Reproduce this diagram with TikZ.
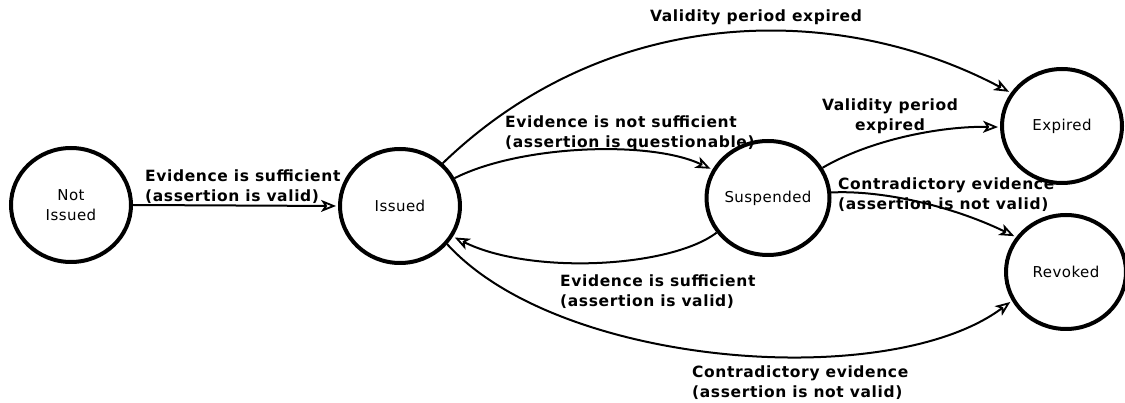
\documentclass[tikz,border=0pt]{standalone}
\usepackage{fontspec}
\setmainfont{DejaVu Sans}
\usetikzlibrary{shapes.geometric,arrows.meta}
\tikzset{
  state/.style={ellipse, draw, line width=4pt, minimum width=120pt,
    minimum height=114pt, inner sep=0pt, align=center,
    font=\fontsize{15}{20}\selectfont\addfontfeature{LetterSpace=3}},
  trans/.style={line width=2pt, shorten >=2pt,
    -{Stealth[open, length=15pt, width=12pt, inset=4pt, line width=1.8pt]}},
  lbl/.style={inner sep=0pt, align=left, anchor=north west,
    font=\fontsize{15.5}{19.5}\selectfont\bfseries\addfontfeature{LetterSpace=4}},
  clbl/.style={lbl, align=center, anchor=north},
}
\begin{document}
\begin{tikzpicture}[x=1pt,y=-1pt]
\useasboundingbox (0,0) rectangle (1125,403);

% states of the assertion
\node[state] (ni)  at (71,205)   {Not\\Issued};
\node[state] (iss) at (400,206)  {Issued};
\node[state] (sus) at (768,198)  {Suspended};
\node[state] (exp) at (1062,126) {Expired};
\node[state] (rev) at (1066,272) {Revoked};

% transitions
\draw[trans] (ni.east) -- (iss.west);
\draw[trans] (iss.45) .. controls (610,2) and (840,2) .. (exp.147);
\draw[trans] (iss.27) .. controls (520,145) and (650,140) .. (sus.153);
\draw[trans] (sus.29) .. controls (870,140) and (940,126) .. (exp.181);
\draw[trans] (sus.5) .. controls (880,190) and (950,205) .. (rev.145);
\draw[trans] (sus.214) .. controls (670,268) and (530,275) .. (iss.330);
\draw[trans] (iss.321) .. controls (560,368) and (890,392) .. (rev.208);

% transition labels
\node[lbl] (l1) at (145,170) {Evidence is sufficient\\(assertion is valid)};
\node[clbl] (l2) at (756,10) {Validity period expired};
\node[lbl] (l3) at (505,116) {Evidence is not sufficient\\(assertion is questionable)};
\node[clbl] (l4) at (890,99) {Validity period\\expired};
\node[lbl] (l5) at (838,178) {Contradictory evidence\\(assertion is not valid)};
\node[lbl] (l6) at (560,275) {Evidence is sufficient\\(assertion is valid)};
\node[lbl] (l7) at (692,366) {Contradictory evidence\\(assertion is not valid)};
\end{tikzpicture}
\end{document}
